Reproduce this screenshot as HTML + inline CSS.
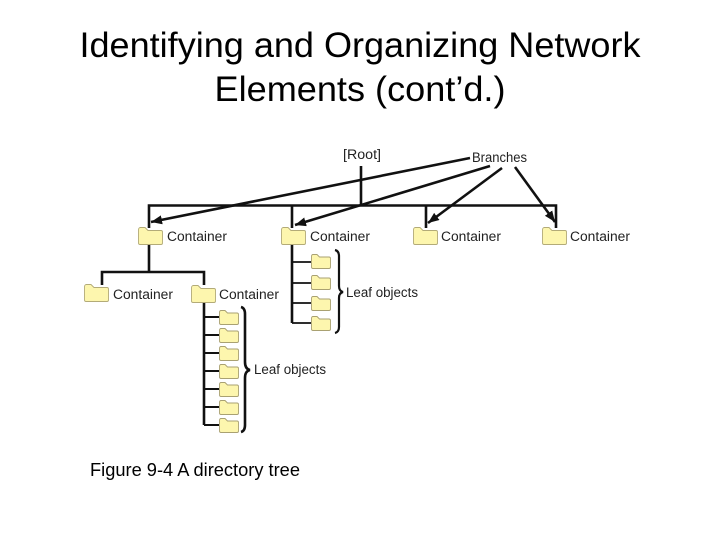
<!DOCTYPE html>
<html><head><meta charset="utf-8"><style>
html,body{margin:0;padding:0;background:#fff}
svg{display:block}
text{font-family:"Liberation Sans",sans-serif}
.l{font-size:13.5px;fill:#222}
</style></head><body>
<svg width="720" height="540" viewBox="0 0 720 540" xmlns="http://www.w3.org/2000/svg">
<defs>
<g id="f"><path d="M0.5 3 Q0.5 1 2 0.5 L7 0.5 L10 3.5 L23 3.5 Q24.5 3.5 24.5 5 L24.5 16 Q24.5 17.5 23 17.5 L2 17.5 Q0.5 17.5 0.5 16 Z" fill="#fdf6ae" stroke="#b3ab78" stroke-width="0.9"/></g>
<g id="s"><path d="M0.5 2.5 Q0.5 0.5 2 0.5 L6 0.5 L8.5 3 L18 3 Q19.5 3 19.5 4.5 L19.5 13 Q19.5 14.5 18 14.5 L2 14.5 Q0.5 14.5 0.5 13 Z" fill="#fdf6ae" stroke="#a9a172" stroke-width="0.9"/></g>
<marker id="a" markerUnits="userSpaceOnUse" markerWidth="12" markerHeight="10" refX="11" refY="4.5" orient="auto"><path d="M0 0 L11 4.5 L0 9 Z" fill="#111"/></marker>
</defs>

<text x="360" y="57" font-size="35" text-anchor="middle" fill="#000" textLength="561" lengthAdjust="spacingAndGlyphs">Identifying and Organizing Network</text>
<text x="360" y="101" font-size="35" text-anchor="middle" fill="#000" textLength="291" lengthAdjust="spacingAndGlyphs">Elements (cont’d.)</text>
<text x="90" y="476" font-size="18" fill="#000" textLength="210" lengthAdjust="spacingAndGlyphs">Figure 9-4 A directory tree</text>

<g fill="none" stroke="#111" stroke-width="2.6">
<path d="M361 166V205"/>
<path d="M149 228V205.500H556V228"/>
<path d="M292 205V228M426 205V228"/>
<path d="M149 244V272M102 285V272H204V285"/>
<path d="M204 302V425"/>
<path d="M292 244V323"/>
</g>
<g stroke="#111" stroke-width="1.8" fill="none">
<path d="M292 262H311M292 283H311M292 303H311M292 323H311"/>
<path d="M204 317H219M204 335H219M204 353H219M204 371H219M204 389H219M204 407H219M204 425H219" stroke-width="2"/>
</g>

<use href="#f" x="138" y="227"/>
<use href="#f" x="281" y="227"/>
<use href="#f" x="413" y="227"/>
<use href="#f" x="542" y="227"/>
<use href="#f" x="84" y="284"/>
<use href="#f" x="191" y="285"/>

<use href="#s" x="311" y="254"/>
<use href="#s" x="311" y="275"/>
<use href="#s" x="311" y="296"/>
<use href="#s" x="311" y="316"/>

<use href="#s" x="219" y="310"/>
<use href="#s" x="219" y="328"/>
<use href="#s" x="219" y="346"/>
<use href="#s" x="219" y="364"/>
<use href="#s" x="219" y="382"/>
<use href="#s" x="219" y="400"/>
<use href="#s" x="219" y="418"/>

<g fill="none" stroke="#111" stroke-width="2.2">
<path d="M335 250Q339 251 339 256V286Q339 291 343 292Q339 293 339 298V327Q339 332 335 333"/>
<path d="M241 307Q245 308 245 314V362Q245 369 250 370Q245 371 245 378V425Q245 431 241 432" stroke-width="2.6"/>
</g>

<g fill="none" stroke="#111" stroke-width="2.6">
<path d="M470 158L151 222" marker-end="url(#a)"/>
<path d="M490 166L295 225" marker-end="url(#a)"/>
<path d="M502 168L428 223" marker-end="url(#a)"/>
<path d="M515 167L555 222" marker-end="url(#a)"/>
</g>

<text class="l" x="343" y="159" textLength="38" lengthAdjust="spacingAndGlyphs">[Root]</text>
<text class="l" x="472" y="162" textLength="55" lengthAdjust="spacingAndGlyphs">Branches</text>
<text class="l" x="167" y="241" textLength="60" lengthAdjust="spacingAndGlyphs">Container</text>
<text class="l" x="310" y="241" textLength="60" lengthAdjust="spacingAndGlyphs">Container</text>
<text class="l" x="441" y="241" textLength="60" lengthAdjust="spacingAndGlyphs">Container</text>
<text class="l" x="570" y="241" textLength="60" lengthAdjust="spacingAndGlyphs">Container</text>
<text class="l" x="113" y="299" textLength="60" lengthAdjust="spacingAndGlyphs">Container</text>
<text class="l" x="219" y="299" textLength="60" lengthAdjust="spacingAndGlyphs">Container</text>
<text class="l" x="346" y="297" textLength="72" lengthAdjust="spacingAndGlyphs">Leaf objects</text>
<text class="l" x="254" y="374" textLength="72" lengthAdjust="spacingAndGlyphs">Leaf objects</text>
</svg>
</body></html>
